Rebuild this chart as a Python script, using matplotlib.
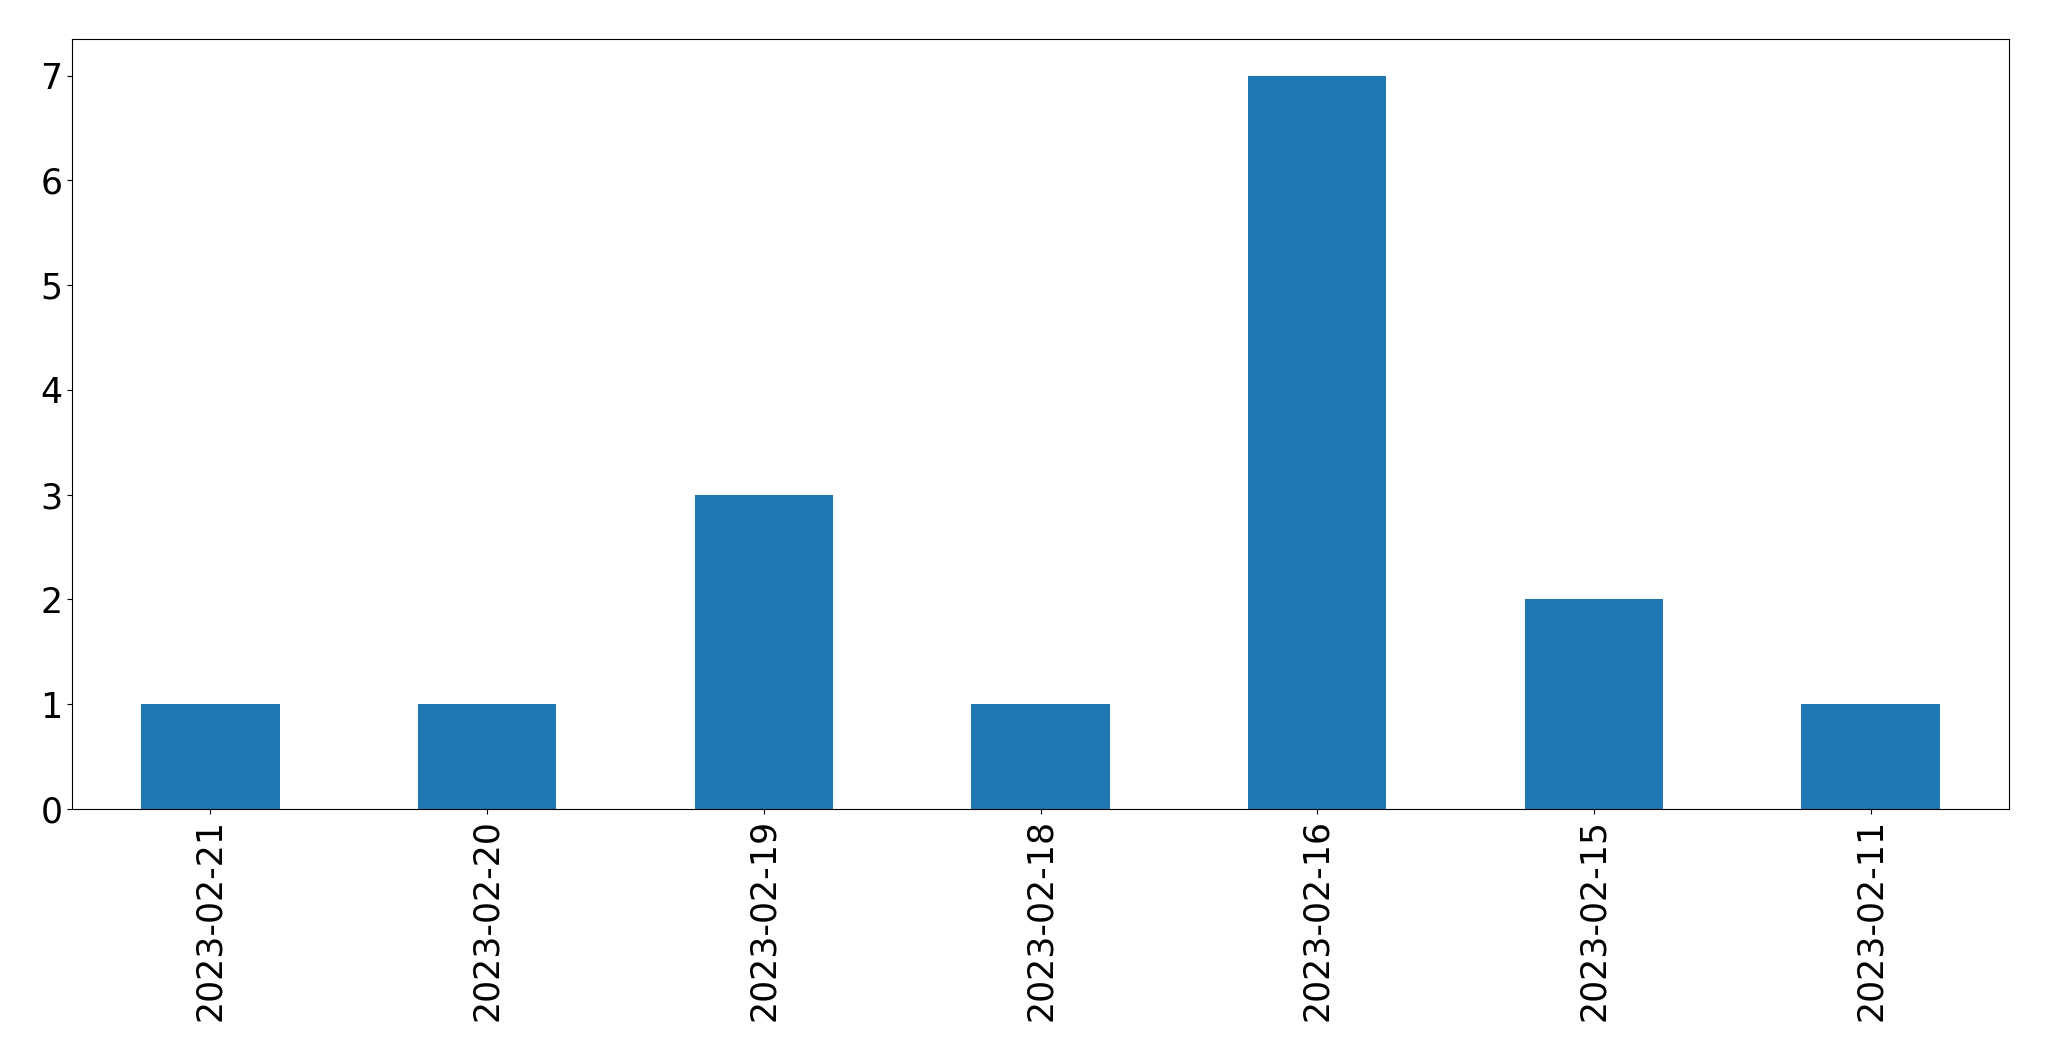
import matplotlib
matplotlib.use("Agg")
import matplotlib.pyplot as plt

dates = ["2023-02-21", "2023-02-20", "2023-02-19", "2023-02-18", "2023-02-16", "2023-02-15", "2023-02-11"]
counts = [1, 1, 3, 1, 7, 2, 1]

fig = plt.figure(figsize=(20.49, 10.61), dpi=100)
ax = fig.add_axes([72/2049, 1-809/1061, (2009-72)/2049, (809-39)/1061])
x = list(range(len(dates)))
ax.bar(x, counts, width=0.5, color="#1f77b4")
ax.set_xlim(-0.5, len(dates) - 0.5)
ax.set_ylim(0, 7.35)
ax.set_xticks(x)
ax.set_xticklabels(dates, rotation=90)
ax.tick_params(axis="both", labelsize=25)
fig.savefig("out.png", dpi=100)
